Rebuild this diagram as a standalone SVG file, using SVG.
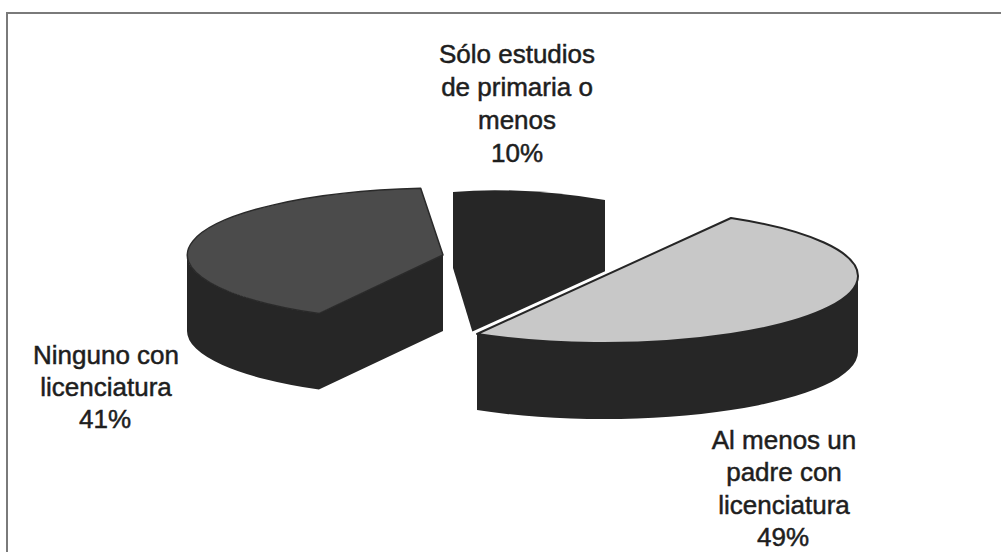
<svg xmlns="http://www.w3.org/2000/svg" width="1001" height="552" viewBox="0 0 1001 552">
  <style>
    .lbl { font-family: "Liberation Sans", Arial, sans-serif; font-size: 26px; fill: #1e1e1e; stroke: #1e1e1e; stroke-width: 0.5; text-anchor: middle; }
    .side { fill: #262626; }
    .frame { fill: none; stroke: #7a7a7a; stroke-width: 2; }
  </style>
  <rect x="0" y="0" width="1001" height="552" fill="#ffffff"/>
  <g id="frame">
    <path class="frame" d="M 7,552 L 7,13 L 1001,13"/>
  </g>

  <g id="slice-ninguno">
    <path class="side" d="M 187,255 A 256 67 0 0 0 318.9,313.6 L 443,255 L 443,331 L 318.9,389.6 A 256 67 0 0 1 187,331 Z"/>
    <path d="M 443,255 L 420.7,188.3 A 256 67 0 0 0 318.9,313.6 Z" fill="#4b4b4b" stroke="#2a2a2a" stroke-width="1.5" stroke-linejoin="round"/>
  </g>

  <g id="slice-primaria">
    <path class="side" d="M 453,192 Q 520,186 605,200 L 605,278 L 474,337 L 453,268 Z"/>
  </g>

  <g id="slice-licenciatura">
    <line x1="468" y1="338" x2="736" y2="216" stroke="#ffffff" stroke-width="8"/>
    <path class="side" d="M 858,276 A 254 67 0 0 1 477,334 L 477,410 A 254 67 0 0 0 858,352 Z"/>
    <path d="M 477,334 L 731,218 A 254 67 0 0 1 858,276 A 254 67 0 0 1 477,334 Z" fill="#c8c8c8" stroke="#262626" stroke-width="2" stroke-linejoin="round"/>
  </g>

  <g id="label-primaria">
    <text class="lbl" x="517" y="62.5">Sólo estudios</text>
    <text class="lbl" x="517" y="95.5">de primaria o</text>
    <text class="lbl" x="517" y="128.5">menos</text>
    <text class="lbl" x="517" y="161.5">10%</text>
  </g>
  <g id="label-ninguno">
    <text class="lbl" x="106" y="364">Ninguno con</text>
    <text class="lbl" x="106" y="396">licenciatura</text>
    <text class="lbl" x="105" y="428">41%</text>
  </g>
  <g id="label-licenciatura">
    <text class="lbl" x="784" y="448.5">Al menos un</text>
    <text class="lbl" x="784" y="481">padre con</text>
    <text class="lbl" x="784" y="513.5">licenciatura</text>
    <text class="lbl" x="783" y="546">49%</text>
  </g>
</svg>
